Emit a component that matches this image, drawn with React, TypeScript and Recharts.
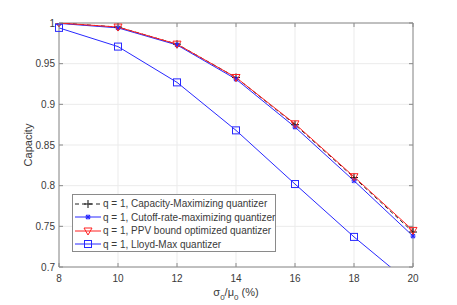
import React from "react";
import {
  LineChart, Line, XAxis, YAxis, CartesianGrid, ReferenceLine, Legend,
} from "recharts";

// sigma_0 / mu_0 in percent
const xVals = [8, 10, 12, 14, 16, 18, 20];
const capMax = [1.0, 0.995, 0.974, 0.933, 0.875, 0.81, 0.743];
const cutoff = [0.9995, 0.994, 0.973, 0.931, 0.872, 0.806, 0.738];
const ppv = [1.0, 0.995, 0.974, 0.933, 0.876, 0.811, 0.745];
const lloyd = [0.994, 0.971, 0.927, 0.868, 0.802, 0.737, 0.677];

const xTicks = [8, 10, 12, 14, 16, 18, 20];
const yTicks = [0.7, 0.75, 0.8, 0.85, 0.9, 0.95, 1];
const legendNames = [
  "q = 1, Capacity-Maximizing quantizer",
  "q = 1, Cutoff-rate-maximizing quantizer",
  "q = 1, PPV bound optimized quantizer",
  "q = 1, Lloyd-Max quantizer",
];

const rows = xVals.map((x, i) => ({
  x, capMax: capMax[i], cutoff: cutoff[i], ppv: ppv[i], lloyd: lloyd[i],
}));

const W = 457;
const H = 305;
const PL = 59, PR = 413, PT = 23, PB = 267;
const AXIS = "#8a8a8a";
const TXT = "#3a3a3a";
const FONT = "'Liberation Sans', Arial, sans-serif";
const BLUE = "#2828ff";
const RED = "#ff2020";
const BLACK = "#222";

const fmtY = (v: number) => String(Number(v.toFixed(2)));

const PlusMark = ({ cx, cy, color = BLACK }: any) => (
  <g stroke={color} strokeWidth={1.1}>
    <line x1={cx - 4} y1={cy} x2={cx + 4} y2={cy} />
    <line x1={cx} y1={cy - 4} x2={cx} y2={cy + 4} />
  </g>
);

const StarMark = ({ cx, cy, color = BLUE }: any) => (
  <g stroke={color} strokeWidth={1.1}>
    <line x1={cx - 2.5} y1={cy} x2={cx + 2.5} y2={cy} />
    <line x1={cx} y1={cy - 2.5} x2={cx} y2={cy + 2.5} />
    <line x1={cx - 2} y1={cy - 2} x2={cx + 2} y2={cy + 2} />
    <line x1={cx - 2} y1={cy + 2} x2={cx + 2} y2={cy - 2} />
  </g>
);

const TriMark = ({ cx, cy, color = RED }: any) => (
  <polygon
    points={`${cx - 4},${cy - 3} ${cx + 4},${cy - 3} ${cx},${cy + 4}`}
    fill="none" stroke={color} strokeWidth={1}
  />
);

const SquareMark = ({ cx, cy, color = BLUE }: any) => (
  <rect x={cx - 3.5} y={cy - 3.5} width={7} height={7} fill="none" stroke={color} strokeWidth={1} />
);

const dotOf = (Mark: any) => (p: any) =>
  p.cy == null || p.cy > PB + 1 ? <g key={p.index} /> : <Mark key={p.index} cx={p.cx} cy={p.cy} />;

const XTick = ({ x, payload }: any) => (
  <g>
    <line x1={x} y1={PB} x2={x} y2={PB - 4} stroke={AXIS} />
    <line x1={x} y1={PT} x2={x} y2={PT + 4} stroke={AXIS} />
    <text x={x} y={PB + 15} textAnchor="middle" fontSize={10} fill={TXT} fontFamily={FONT}>
      {payload.value}
    </text>
  </g>
);

const YTick = ({ y, payload }: any) => (
  <g>
    <line x1={PL} y1={y} x2={PL + 4} y2={y} stroke={AXIS} />
    <line x1={PR} y1={y} x2={PR - 4} y2={y} stroke={AXIS} />
    <text x={PL - 4} y={y + 3.5} textAnchor="end" fontSize={10} fill={TXT} fontFamily={FONT}>
      {fmtY(payload.value)}
    </text>
  </g>
);

const legendMarks = [PlusMark, StarMark, TriMark, SquareMark];
const legendColors = [BLACK, BLUE, RED, BLUE];
const legendDash = ["4 3", undefined, undefined, undefined];

const LegendBox = () => (
  <div
    style={{
      width: 204, height: 58, background: "#fff", border: `1px solid ${AXIS}`,
      fontFamily: FONT, fontSize: 10, color: TXT, boxSizing: "border-box", paddingTop: 2,
    }}
  >
    {legendNames.map((name, i) => {
      const M = legendMarks[i];
      return (
        <div key={name} style={{ display: "flex", alignItems: "center", height: 13.5 }}>
          <svg width={30} height={12} style={{ flex: "none" }}>
            <line x1={2} y1={6} x2={28} y2={6} stroke={legendColors[i]} strokeDasharray={legendDash[i]} strokeWidth={1} />
            <M cx={15} cy={6} />
          </svg>
          <span style={{ whiteSpace: "nowrap" }}>{name}</span>
        </div>
      );
    })}
  </div>
);

export default function App() {
  return (
    <div style={{ position: "fixed", left: 0, top: 0, width: W, height: H, background: "#fff" }}>
      <LineChart width={W} height={H} data={rows} margin={{ top: PT, right: W - PR, left: 0, bottom: 0 }}>
        <CartesianGrid stroke="#ebebeb" strokeWidth={1} />
        <XAxis
          dataKey="x" type="number" domain={[8, 20]} ticks={xTicks} height={H - PB}
          axisLine={{ stroke: AXIS }} tickLine={false} tick={<XTick />} interval={0}
        />
        <YAxis
          type="number" domain={[0.7, 1]} ticks={yTicks} width={PL} allowDataOverflow
          axisLine={{ stroke: AXIS }} tickLine={false} tick={<YTick />} interval={0}
        />
        <ReferenceLine x={20} stroke={AXIS} />
        <ReferenceLine y={1} stroke={AXIS} />
        <Line dataKey="capMax" stroke={BLACK} strokeDasharray="4 3" strokeWidth={1} dot={dotOf(PlusMark)} isAnimationActive={false} />
        <Line dataKey="cutoff" stroke={BLUE} strokeWidth={1} dot={dotOf(StarMark)} isAnimationActive={false} />
        <Line dataKey="ppv" stroke={RED} strokeWidth={1} dot={dotOf(TriMark)} isAnimationActive={false} />
        <Line dataKey="lloyd" stroke={BLUE} strokeWidth={1} dot={dotOf(SquareMark)} isAnimationActive={false} />
        <Legend
          layout="vertical" align="center" verticalAlign="middle"
          wrapperStyle={{ left: 72, top: 194, width: 204, height: 58 }}
          content={<LegendBox />}
        />
      </LineChart>
      <div
        style={{
          position: "absolute", left: 28, top: (PT + PB) / 2, transform: "translate(-50%, -50%) rotate(-90deg)",
          fontFamily: FONT, fontSize: 11, color: TXT, whiteSpace: "nowrap",
        }}
      >
        Capacity
      </div>
      <div
        style={{
          position: "absolute", left: (PL + PR) / 2, top: 294, transform: "translate(-50%, -50%)",
          fontFamily: FONT, fontSize: 11, color: TXT, whiteSpace: "nowrap",
        }}
      >
        σ<sub style={{ fontSize: 8 }}>0</sub>/μ<sub style={{ fontSize: 8 }}>0</sub> (%)
      </div>
    </div>
  );
}
